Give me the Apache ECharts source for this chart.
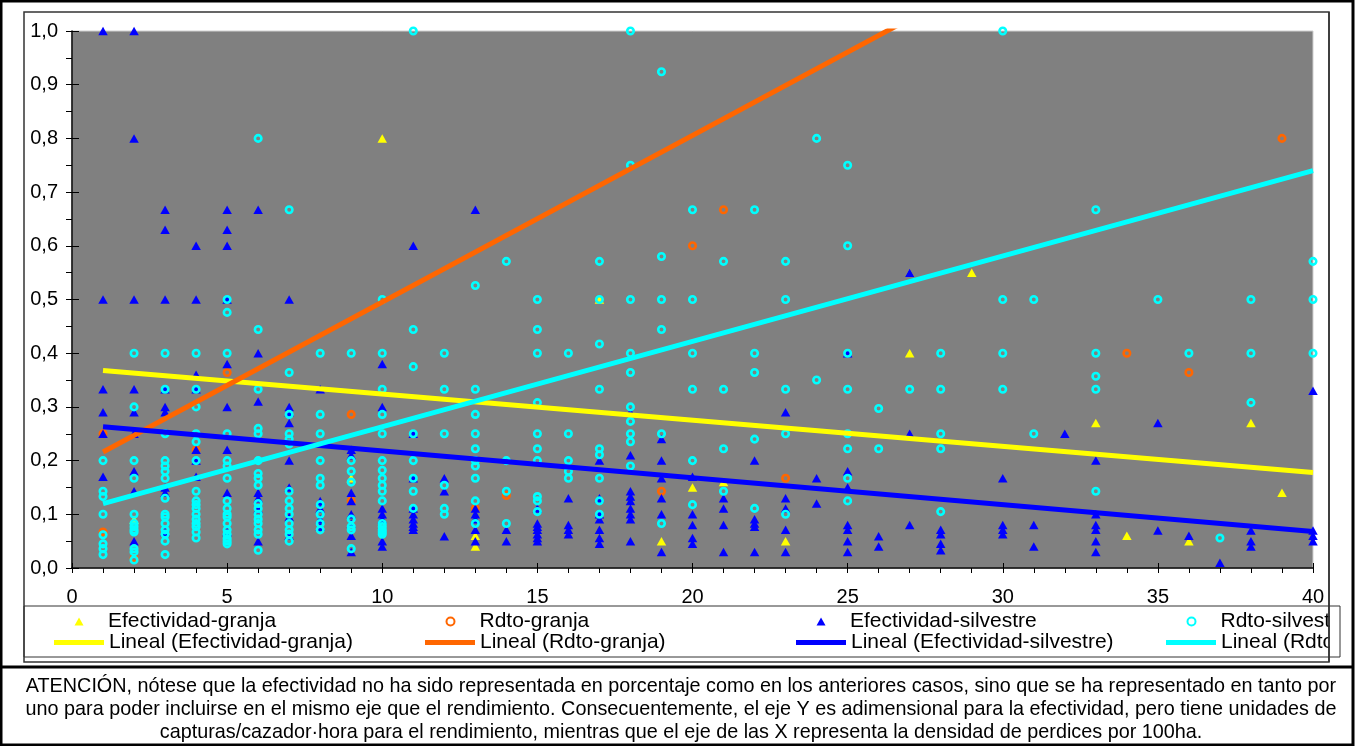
<!DOCTYPE html>
<html>
<head>
<meta charset="utf-8">
<script src="https://cdn.jsdelivr.net/npm/echarts@6/dist/echarts.min.js"></script>
<style>
html,body{margin:0;padding:0;background:#fff;}
#chart{width:1363px;height:746px;}
</style>
</head>
<body>
<div id="chart"></div>
<script>
// ---- Data (x = densidad de perdices / 100ha, y = valor) ----
var seriesNames = ['Efectividad-granja','Rdto-granja','Efectividad-silvestre','Rdto-silvestre'];
var trendNames = ['Lineal (Efectividad-granja)','Lineal (Rdto-granja)','Lineal (Efectividad-silvestre)','Lineal (Rdto-silvestre)'];
var xTickLabels = ['0','5','10','15','20','25','30','35','40'];
var yTickLabels = ['0,0','0,1','0,2','0,3','0,4','0,5','0,6','0,7','0,8','0,9','1,0'];
var captionLines = [
 'ATENCIÓN, nótese que la efectividad no ha sido representada en porcentaje como en los anteriores casos, sino que se ha representado en tanto por',
 'uno para poder incluirse en el mismo eje que el rendimiento. Consecuentemente, el eje Y es adimensional para la efectividad, pero tiene unidades de',
 'capturas/cazador·hora para el rendimiento, mientras que el eje de las X representa la densidad de perdices por 100ha.'
];

var efGranja = [[2,0.09],[9,0.167],[10,0.8],[13,0.06],[13,0.04],[17,0.5],[19,0.05],[20,0.15],[21,0.16],[23,0.05],
 [27,0.55],[27,0.4],[29,0.55],[33,0.27],[34,0.06],[36,0.05],[38,0.27],[39,0.14]];

var rdGranja = [[1,0.25],[1,0.067],[2,0.018],[4,0.22],[5,0.364],[9,0.286],[9,0.125],[13,0.111],[14,0.135],
 [19,0.143],[20,0.6],[21,0.667],[23,0.167],[34,0.4],[36,0.364],[39,0.8]];

var efSilv = [
 [1,1.0],[1,0.5],[1,0.333],[1,0.29],[1,0.25],[1,0.17],
 [2,1.0],[2,0.8],[2,0.5],[2,0.333],[2,0.29],[2,0.25],[2,0.18],[2,0.143],[2,0.05],
 [3,0.667],[3,0.63],[3,0.5],[3,0.333],[3,0.3],[3,0.29],[3,0.15],[3,0.14],[3,0.067],
 [4,0.6],[4,0.5],[4,0.36],[4,0.333],[4,0.22],[4,0.2],[4,0.17],
 [5,0.667],[5,0.63],[5,0.6],[5,0.5],[5,0.38],[5,0.3],[5,0.22],[5,0.14],[5,0.067],
 [6,0.667],[6,0.4],[6,0.31],[6,0.14],[6,0.13],[6,0.11],[6,0.05],
 [7,0.5],[7,0.3],[7,0.29],[7,0.27],[7,0.2],[7,0.15],[7,0.095],[7,0.06],
 [8,0.333],[8,0.125],[8,0.111],[8,0.091],[8,0.077],
 [9,0.22],[9,0.21],[9,0.14],[9,0.125],[9,0.1],[9,0.083],[9,0.06],[9,0.03],
 [10,0.38],[10,0.3],[10,0.111],[10,0.1],[10,0.091],[10,0.05],[10,0.04],
 [11,0.6],[11,0.25],[11,0.167],[11,0.111],[11,0.1],[11,0.091],[11,0.083],[11,0.077],[11,0.071],
 [12,0.167],[12,0.143],[12,0.059],
 [13,0.667],[13,0.111],[13,0.1],[13,0.091],[13,0.071],[13,0.05],
 [14,0.071],[14,0.05],
 [15,0.111],[15,0.083],[15,0.077],[15,0.071],[15,0.063],[15,0.056],[15,0.05],
 [16,0.13],[16,0.08],[16,0.071],[16,0.063],
 [17,0.2],[17,0.13],[17,0.1],[17,0.091],[17,0.071],[17,0.056],[17,0.045],
 [18,0.29],[18,0.21],[18,0.143],[18,0.133],[18,0.125],[18,0.111],[18,0.1],[18,0.091],[18,0.05],
 [19,0.24],[19,0.2],[19,0.167],[19,0.13],[19,0.1],[19,0.03],
 [20,0.17],[20,0.1],[20,0.08],[20,0.056],[20,0.045],
 [21,0.13],[21,0.111],[21,0.08],[21,0.03],
 [22,0.2],[22,0.091],[22,0.083],[22,0.077],[22,0.03],
 [23,0.29],[23,0.13],[23,0.111],[23,0.071],[23,0.03],
 [24,0.167],[24,0.12],
 [25,0.4],[25,0.18],[25,0.15],[25,0.08],[25,0.071],[25,0.05],[25,0.03],
 [26,0.059],[26,0.04],
 [27,0.55],[27,0.25],[27,0.08],
 [28,0.071],[28,0.063],[28,0.045],[28,0.033],
 [30,0.167],[30,0.08],[30,0.071],[30,0.063],
 [31,0.08],[31,0.04],
 [32,0.25],
 [33,0.2],[33,0.1],[33,0.08],[33,0.071],[33,0.05],[33,0.03],
 [35,0.27],[35,0.07],
 [36,0.06],
 [37,0.01],
 [38,0.07],[38,0.05],[38,0.04],
 [40,0.33],[40,0.07],[40,0.06],[40,0.05]
];

var rdSilv = [
 [1,0.2],[1,0.143],[1,0.133],[1,0.1],[1,0.062],[1,0.045],[1,0.036],[1,0.025],
 [2,0.4],[2,0.3],[2,0.2],[2,0.167],[2,0.1],[2,0.083],[2,0.077],[2,0.071],[2,0.067],[2,0.036],[2,0.03],[2,0.015],
 [3,0.4],[3,0.333],[3,0.25],[3,0.2],[3,0.19],[3,0.18],[3,0.167],[3,0.13],[3,0.1],[3,0.095],[3,0.083],[3,0.071],[3,0.063],[3,0.05],[3,0.025],
 [4,0.4],[4,0.333],[4,0.3],[4,0.25],[4,0.235],[4,0.2],[4,0.143],[4,0.125],[4,0.118],[4,0.111],[4,0.1],[4,0.091],[4,0.083],[4,0.077],[4,0.067],[4,0.056],
 [5,0.5],[5,0.476],[5,0.4],[5,0.25],[5,0.2],[5,0.19],[5,0.167],[5,0.125],[5,0.111],[5,0.1],[5,0.095],[5,0.083],[5,0.071],[5,0.063],[5,0.055],[5,0.05],[5,0.045],
 [6,0.8],[6,0.444],[6,0.333],[6,0.26],[6,0.25],[6,0.2],[6,0.176],[6,0.167],[6,0.154],[6,0.12],[6,0.111],[6,0.1],[6,0.091],[6,0.083],[6,0.071],[6,0.063],[6,0.033],
 [7,0.667],[7,0.364],[7,0.286],[7,0.25],[7,0.24],[7,0.231],[7,0.143],[7,0.125],[7,0.111],[7,0.1],[7,0.083],[7,0.071],[7,0.063],[7,0.05],
 [8,0.4],[8,0.286],[8,0.25],[8,0.2],[8,0.167],[8,0.154],[8,0.118],[8,0.1],[8,0.083],[8,0.071],
 [9,0.4],[9,0.2],[9,0.18],[9,0.16],[9,0.091],[9,0.077],[9,0.071],[9,0.036],
 [10,0.5],[10,0.4],[10,0.333],[10,0.286],[10,0.25],[10,0.2],[10,0.182],[10,0.167],[10,0.154],[10,0.143],[10,0.125],[10,0.083],[10,0.077],[10,0.071],[10,0.067],[10,0.063],
 [11,1.0],[11,0.444],[11,0.375],[11,0.25],[11,0.2],[11,0.167],[11,0.143],[11,0.111],
 [12,0.4],[12,0.333],[12,0.25],[12,0.154],[12,0.111],[12,0.1],
 [13,0.526],[13,0.333],[13,0.286],[13,0.25],[13,0.222],[13,0.2],[13,0.19],[13,0.167],[13,0.125],[13,0.083],
 [14,0.571],[14,0.2],[14,0.143],[14,0.083],
 [15,0.5],[15,0.444],[15,0.4],[15,0.308],[15,0.25],[15,0.222],[15,0.2],[15,0.133],[15,0.125],[15,0.105],
 [16,0.4],[16,0.25],[16,0.2],[16,0.18],[16,0.167],
 [17,0.571],[17,0.5],[17,0.417],[17,0.333],[17,0.222],[17,0.211],[17,0.167],[17,0.125],[17,0.1],
 [18,1.0],[18,0.75],[18,0.5],[18,0.4],[18,0.364],[18,0.3],[18,0.273],[18,0.25],[18,0.235],[18,0.19],
 [19,0.924],[19,0.58],[19,0.5],[19,0.444],[19,0.25],[19,0.083],
 [20,0.667],[20,0.5],[20,0.4],[20,0.333],[20,0.2],[20,0.118],
 [21,0.571],[21,0.333],[21,0.222],[21,0.143],
 [22,0.667],[22,0.4],[22,0.364],[22,0.24],[22,0.111],
 [23,0.571],[23,0.5],[23,0.333],[23,0.25],[23,0.1],
 [24,0.8],[24,0.35],
 [25,0.75],[25,0.6],[25,0.4],[25,0.333],[25,0.25],[25,0.222],[25,0.167],[25,0.125],
 [26,0.297],[26,0.222],
 [27,0.333],
 [28,0.4],[28,0.333],[28,0.25],[28,0.222],[28,0.105],
 [30,1.0],[30,0.5],[30,0.4],[30,0.333],
 [31,0.5],[31,0.25],
 [33,0.667],[33,0.4],[33,0.357],[33,0.333],[33,0.143],
 [35,0.5],
 [36,0.4],
 [37,0.056],
 [38,0.5],[38,0.4],[38,0.308],
 [40,0.571],[40,0.5],[40,0.4]
];

// trend lines (endpoints, x = 1 .. 40)
var trendEfGranja = [[1,0.368],[40,0.178]];
var trendRdGranja = [[1,0.216],[40,1.426]];
var trendEfSilv   = [[1,0.263],[40,0.068]];
var trendRdSilv   = [[1,0.120],[40,0.740]];

var colors = ['#FFFF00','#FF6600','#0000FF','#00FFFF'];

var chart = echarts.init(document.getElementById('chart'), null, {renderer:'canvas'});
var FONT = 'Liberation Sans';

function triSeries(name, data, color){
  return {name:name, type:'scatter', data:data, symbol:'triangle', symbolSize:[9.5,8.5],
    itemStyle:{color:color, opacity:1}, xAxisIndex:0, yAxisIndex:0, silent:true};
}
function ringSeries(name, data, color){
  return {name:name, type:'scatter', data:data, symbol:'circle', symbolSize:6.5,
    itemStyle:{color:'rgba(0,0,0,0)', borderColor:color, borderWidth:2.6, opacity:1}, xAxisIndex:0, yAxisIndex:0, silent:true};
}
function trendSeries(name, data, color){
  return {name:name, type:'line', data:data, showSymbol:false, symbol:'none', clip:true,
    lineStyle:{color:color, width:5}, itemStyle:{color:color}, xAxisIndex:0, yAxisIndex:0, silent:true};
}

var colBase = [54, 425, 796, 1166];
var legends = [];
for (var i=0;i<4;i++){
  legends.push({
    data:[seriesNames[i]], left:colBase[i]+20.5, top:611, padding:0, itemWidth:9, itemHeight:8,
    selectedMode:false,
    formatter:function(name){ return '{a|' + name + '}'; },
    textStyle:{fontFamily:FONT, fontSize:21, color:'#000',
      rich:{a:{fontFamily:FONT, fontSize:21, color:'#000', padding:[0,0,0,19.5]}}}
  });
  legends.push({
    data:[{name:trendNames[i], icon:'rect'}], left:colBase[i], top:632, padding:0, itemWidth:50, itemHeight:5,
    selectedMode:false, textStyle:{fontFamily:FONT, fontSize:21, color:'#000'}
  });
}

var axisCommonX = {type:'value', min:0, max:40, interval:5};
var axisCommonY = {type:'value', min:0, max:1, interval:0.1};

var option = {
  animation:false,
  backgroundColor:'#ffffff',
  color:colors,
  textStyle:{fontFamily:FONT},
  grid:{left:72, right:50, top:31, bottom:178, show:true, backgroundColor:'#808080', borderColor:'#cfcfcf', borderWidth:1},
  legend:legends,
  title:{
    text: captionLines.join('\n'), left:681, top:675, padding:0, textAlign:'center',
    textStyle:{fontFamily:FONT, fontSize:19.8, fontWeight:'normal', color:'#000', lineHeight:23}
  },
  xAxis:[
    Object.assign({}, axisCommonX, {
      position:'bottom',
      axisLine:{show:true, onZero:false, lineStyle:{color:'#000', width:1.5}},
      axisTick:{show:true, inside:false, length:5, lineStyle:{color:'#000', width:1}},
      minorTick:{show:true, splitNumber:5, length:5, lineStyle:{color:'#000', width:1}},
      axisLabel:{show:true, margin:19, fontSize:20, color:'#000', fontFamily:FONT,
        formatter:function(v){ return xTickLabels[Math.round(v/5)]; }},
      splitLine:{show:false}
    }),
    Object.assign({}, axisCommonX, {
      position:'bottom',
      axisLine:{show:false, onZero:false},
      axisTick:{show:true, inside:true, length:5, lineStyle:{color:'#000', width:1}},
      axisLabel:{show:false}, splitLine:{show:false}
    })
  ],
  yAxis:[
    Object.assign({}, axisCommonY, {
      position:'left',
      axisLine:{show:true, onZero:false, lineStyle:{color:'#000', width:1.5}},
      axisTick:{show:true, inside:false, length:6, lineStyle:{color:'#000', width:1}},
      minorTick:{show:true, splitNumber:2, length:6, lineStyle:{color:'#000', width:1}},
      axisLabel:{show:true, margin:14, fontSize:20, color:'#000', fontFamily:FONT,
        formatter:function(v){ return yTickLabels[Math.round(v*10)]; }},
      splitLine:{show:false}
    }),
    Object.assign({}, axisCommonY, {
      position:'left',
      axisLine:{show:false, onZero:false},
      axisTick:{show:true, inside:true, length:7, lineStyle:{color:'#000', width:1}},
      axisLabel:{show:false}, splitLine:{show:false}
    })
  ],
  series:[
    triSeries(seriesNames[0], efGranja, colors[0]),
    ringSeries(seriesNames[1], rdGranja, colors[1]),
    triSeries(seriesNames[2], efSilv, colors[2]),
    ringSeries(seriesNames[3], rdSilv, colors[3]),
    trendSeries(trendNames[0], trendEfGranja, colors[0]),
    trendSeries(trendNames[1], trendRdGranja, colors[1]),
    trendSeries(trendNames[2], trendEfSilv, colors[2]),
    trendSeries(trendNames[3], trendRdSilv, colors[3])
  ],
  graphic:[
    {type:'rect', z:100, silent:true, shape:{x:1330, y:603, width:33, height:62}, style:{fill:'#ffffff'}},
    {type:'line', z:101, silent:true, shape:{x1:1329, y1:12, x2:1329, y2:662}, style:{stroke:'#333', lineWidth:1.5}},
    {type:'rect', z:101, silent:true, shape:{x:24, y:12, width:1305, height:650}, style:{fill:'none', stroke:'#333', lineWidth:1.5}},
    {type:'rect', z:101, silent:true, shape:{x:24, y:606, width:1316, height:51}, style:{fill:'none', stroke:'#333', lineWidth:1}},
    {type:'line', z:102, silent:true, shape:{x1:0, y1:667, x2:1353, y2:667}, style:{stroke:'#000', lineWidth:3}},
    {type:'rect', z:102, silent:true, shape:{x:1, y:1, width:1352, height:744}, style:{fill:'none', stroke:'#000', lineWidth:3}}
  ]
};
chart.setOption(option);
</script>
</body>
</html>
